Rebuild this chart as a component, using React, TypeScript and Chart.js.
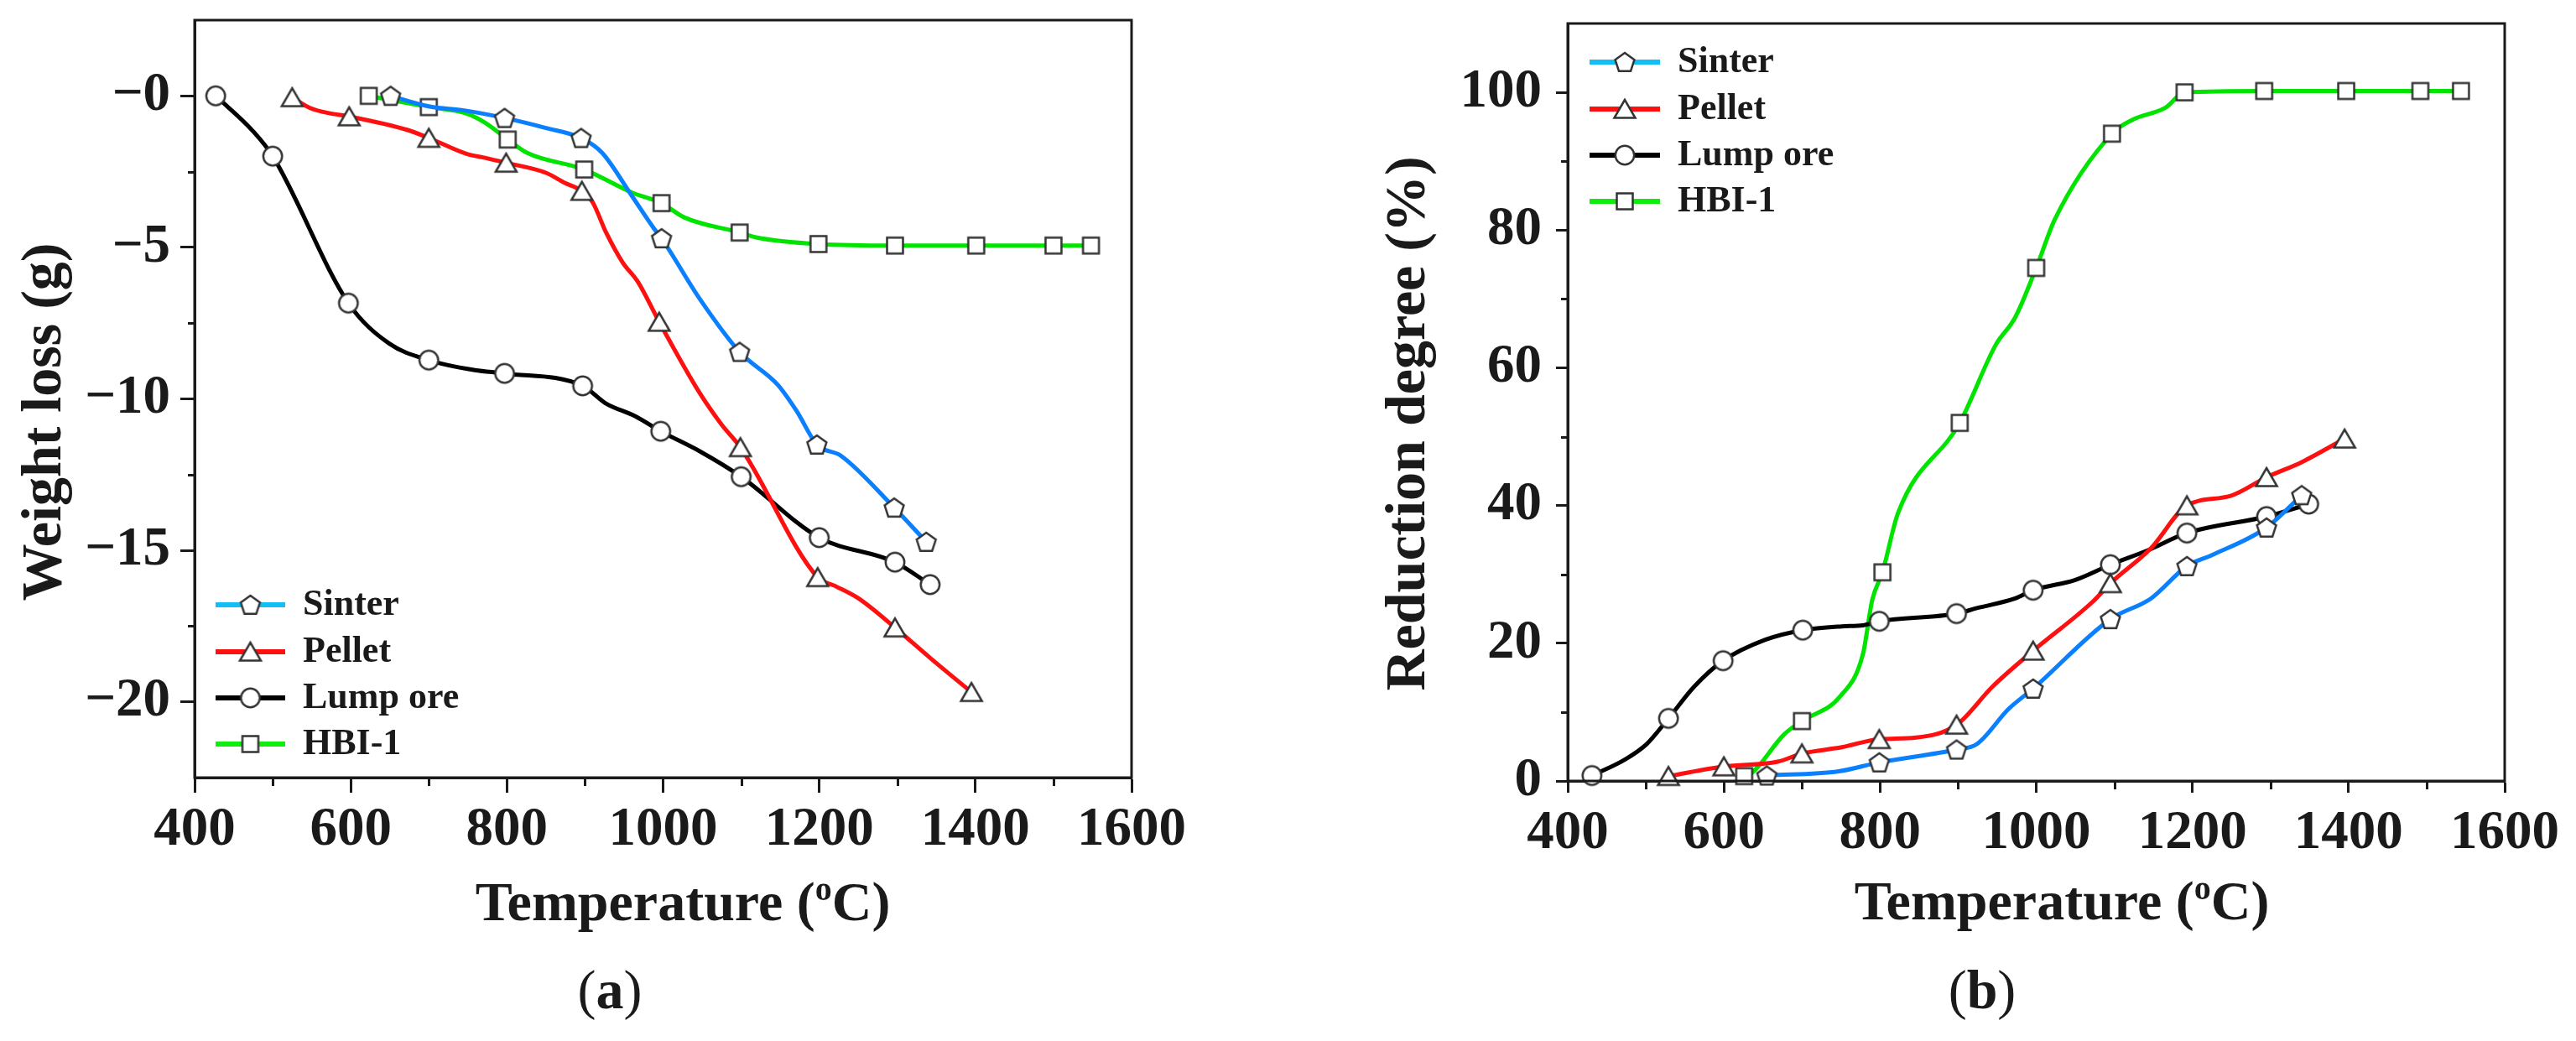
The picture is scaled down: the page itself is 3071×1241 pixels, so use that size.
import { useEffect, useRef } from 'react'
import Chart from 'chart.js/auto'

// ─── Style constants ──────────────────────────────────────────────────────────
const FONT = '"Liberation Serif", "Times New Roman", serif'
const INK = '#1a1a1a'

const SERIES = ['Sinter', 'Pellet', 'Lump ore', 'HBI-1']
const LINE_COLORS = ['#0a80ff', '#ff1010', '#000000', '#00e400']
const LEGEND_COLORS = ['#12bff5', '#ff1010', '#000000', '#10ee10']
const SHAPES = ['pentagon', 'triangle', 'circle', 'square'] as const

// ─── Axis ticks ───────────────────────────────────────────────────────────────
const X_MAJOR = [400, 600, 800, 1000, 1200, 1400, 1600]
const X_MINOR = [500, 700, 900, 1100, 1300, 1500]
const A_Y_MAJOR = [-20, -15, -10, -5, 0]
const A_Y_MINOR = [-17.5, -12.5, -7.5, -2.5]
const B_Y_MAJOR = [0, 20, 40, 60, 80, 100]
const B_Y_MINOR = [10, 30, 50, 70, 90]

// ─── (a) Weight loss (g) vs temperature ───────────────────────────────────────
const sinterTempA = [651, 701, 745, 797, 850, 895, 922, 960, 989, 998, 1047, 1098, 1147, 1171, 1197, 1228, 1296, 1337]
const sinterLossA = [0, -0.35, -0.48, -0.73, -1.06, -1.39, -1.88, -3.3, -4.4, -4.7, -6.7, -8.45, -9.54, -10.4, -11.51, -11.88, -13.59, -14.72]
const sinterMarkA = [1, 0, 0, 1, 0, 1, 0, 0, 0, 1, 0, 1, 0, 0, 1, 0, 1, 1]

const pelletTempA = [525, 548, 572, 598, 672, 700, 749, 773, 799, 850, 874, 896, 910, 927, 948, 968, 995, 1047, 1075, 1099, 1198, 1220, 1250, 1297, 1343, 1395]
const pelletLossA = [-0.05, -0.4, -0.57, -0.68, -1.12, -1.39, -1.92, -2.05, -2.21, -2.54, -2.87, -3.14, -3.52, -4.51, -5.49, -6.15, -7.46, -9.81, -10.85, -11.6, -15.89, -16.17, -16.58, -17.55, -18.57, -19.68]
const pelletMarkA = [1, 0, 0, 1, 0, 1, 0, 0, 1, 0, 0, 1, 0, 0, 0, 0, 1, 0, 0, 1, 1, 0, 0, 1, 0, 1]

const lumpTempA = [427, 475, 500, 597, 649, 700, 759, 797, 897, 926, 965, 997, 1047, 1100, 1200, 1297, 1342]
const lumpLossA = [0, -1.17, -1.99, -6.84, -8.17, -8.72, -9.05, -9.16, -9.57, -10.14, -10.58, -11.07, -11.73, -12.57, -14.58, -15.39, -16.13]
const lumpMarkA = [1, 0, 1, 1, 0, 1, 0, 1, 1, 0, 0, 1, 0, 1, 1, 1, 1]

const hbiTempA = [623, 700, 749, 773, 801, 826, 899, 960, 998, 1027, 1098, 1119, 1199, 1297, 1401, 1500, 1548]
const hbiLossA = [0, -0.37, -0.59, -0.9, -1.44, -1.88, -2.43, -3.19, -3.54, -4.01, -4.51, -4.67, -4.89, -4.94, -4.94, -4.94, -4.94]
const hbiMarkA = [1, 1, 0, 0, 1, 0, 1, 0, 1, 0, 1, 0, 1, 1, 1, 1, 1]

// ─── (b) Reduction degree (%) vs temperature ──────────────────────────────────
const sinterTempB = [655, 747, 799, 898, 924, 965, 996, 1095, 1147, 1193, 1225, 1295, 1340]
const sinterRedB = [0.79, 1.4, 2.7, 4.56, 5.36, 10.5, 13.4, 23.5, 26.5, 31.2, 32.8, 36.8, 41.5]
const sinterMarkB = [1, 0, 1, 1, 0, 0, 1, 1, 0, 1, 0, 1, 1]

const pelletTempB = [529, 600, 669, 700, 751, 799, 846, 898, 944, 996, 1073, 1095, 1147, 1193, 1249, 1295, 1340, 1395]
const pelletRedB = [0.7, 2.1, 2.8, 3.97, 4.9, 6.06, 6.3, 8.15, 13.7, 18.9, 26.1, 28.7, 33.8, 40.0, 41.4, 44.1, 46.3, 49.7]
const pelletMarkB = [1, 1, 0, 1, 0, 1, 0, 1, 0, 1, 0, 1, 0, 1, 0, 1, 0, 1]

const lumpTempB = [431, 472, 501, 529, 562, 599, 653, 701, 751, 778, 799, 898, 924, 973, 996, 1050, 1095, 1143, 1193, 1295, 1349]
const lumpRedB = [0.79, 3.03, 5.35, 9.09, 13.7, 17.46, 20.5, 21.9, 22.45, 22.6, 23.19, 24.3, 25.1, 26.5, 27.7, 29.2, 31.4, 33.5, 36.0, 38.4, 40.2]
const lumpMarkB = [1, 0, 0, 1, 0, 1, 0, 1, 0, 0, 1, 1, 0, 0, 1, 0, 1, 0, 1, 1, 1]

const hbiTempB = [626, 636, 677, 700, 749, 778, 790, 803, 823, 902, 948, 973, 1000, 1024, 1097, 1123, 1166, 1190, 1292, 1397, 1492, 1544]
const hbiRedB = [0.7, 1.2, 6.75, 8.7, 12.3, 18.4, 26.3, 30.3, 38.9, 52.0, 63.3, 67.3, 74.5, 81.6, 94.0, 96.0, 97.8, 100.0, 100.2, 100.2, 100.2, 100.2]
const hbiMarkB = [1, 0, 0, 1, 0, 0, 0, 1, 0, 1, 0, 0, 1, 0, 1, 0, 0, 1, 1, 1, 1, 1]

type Series = { t: number[]; v: number[]; m: number[] }

const SERIES_A: Series[] = [
  { t: sinterTempA, v: sinterLossA, m: sinterMarkA },
  { t: pelletTempA, v: pelletLossA, m: pelletMarkA },
  { t: lumpTempA, v: lumpLossA, m: lumpMarkA },
  { t: hbiTempA, v: hbiLossA, m: hbiMarkA },
]
const SERIES_B: Series[] = [
  { t: sinterTempB, v: sinterRedB, m: sinterMarkB },
  { t: pelletTempB, v: pelletRedB, m: pelletMarkB },
  { t: lumpTempB, v: lumpRedB, m: lumpMarkB },
  { t: hbiTempB, v: hbiRedB, m: hbiMarkB },
]

// ─── Open markers as small canvases (Chart.js has no pentagon) ────────────────
const markerCache: Record<string, HTMLCanvasElement> = {}
function marker(shape: (typeof SHAPES)[number]) {
  if (markerCache[shape]) return markerCache[shape]
  const c = document.createElement('canvas')
  c.width = 32
  c.height = 32
  const g = c.getContext('2d')!
  g.fillStyle = '#ffffff'
  g.strokeStyle = '#333333'
  g.lineWidth = 2.5
  g.lineJoin = 'miter'
  g.beginPath()
  if (shape === 'circle') {
    g.arc(16, 16, 11.2, 0, Math.PI * 2)
  } else if (shape === 'square') {
    g.rect(6.5, 6.5, 19, 19)
  } else if (shape === 'triangle') {
    g.moveTo(16, 5)
    g.lineTo(3.5, 26.5)
    g.lineTo(28.5, 26.5)
    g.closePath()
  } else {
    for (let k = 0; k < 5; k++) {
      const a = -Math.PI / 2 + (k * 2 * Math.PI) / 5
      const px = 16 + 12 * Math.cos(a)
      const py = 17 + 12 * Math.sin(a)
      if (k === 0) g.moveTo(px, py)
      else g.lineTo(px, py)
    }
    g.closePath()
  }
  g.fill()
  g.stroke()
  markerCache[shape] = c
  return c
}

// ─── Panel config ─────────────────────────────────────────────────────────────
type PanelCfg = {
  left: number
  width: number
  height: number
  plot: { left: number; right: number; top: number; bottom: number }
  yMin: number
  yMax: number
  yMajor: number[]
  yMinor: number[]
  yFmt: (v: number) => string
  yTitle: string
  yTitleX: number
  yTitleY: number
  xTitleX: number
  xTitleY: number
  legend: { x0: number; x1: number; tx: number; ys: number[] }
  tick: { xMajor: number; xMinor: number; yMajor: number; yMinor: number; xPad: number; yPad: number }
  series: Series[]
}

const PANEL_A: PanelCfg = {
  left: 0,
  width: 1480,
  height: 1130,
  plot: { left: 232, right: 1349, top: 24, bottom: 927 },
  yMin: -22.5,
  yMax: 2.5,
  yMajor: A_Y_MAJOR,
  yMinor: A_Y_MINOR,
  yFmt: (v) => '\u2212' + Math.abs(v),
  yTitle: 'Weight loss (g)',
  yTitleX: 72,
  yTitleY: 503,
  xTitleX: 814,
  xTitleY: 1097,
  legend: { x0: 257, x1: 340, tx: 361, ys: [721, 777, 832, 887] },
  tick: { xMajor: 18, xMinor: 10, yMajor: 17, yMinor: 8, xPad: 6, yPad: 12 },
  series: SERIES_A,
}

const PANEL_B: PanelCfg = {
  left: 1500,
  width: 1571,
  height: 1130,
  plot: { left: 369, right: 1486, top: 28, bottom: 931 },
  yMin: 0,
  yMax: 110,
  yMajor: B_Y_MAJOR,
  yMinor: B_Y_MINOR,
  yFmt: (v) => String(v),
  yTitle: 'Reduction degree (%)',
  yTitleX: 198,
  yTitleY: 505,
  xTitleX: 958,
  xTitleY: 1096,
  legend: { x0: 395, x1: 479, tx: 500, ys: [74, 130, 185, 240] },
  tick: { xMajor: 14, xMinor: 10, yMajor: 14, yMinor: 8, xPad: 10, yPad: 17 },
  series: SERIES_B,
}

// ─── Decorations: frame, minor ticks, axis titles, legend ─────────────────────
function decoPlugin(cfg: PanelCfg) {
  return {
    id: 'deco',
    afterDraw(chart: Chart) {
      const { ctx, chartArea: a, scales } = chart
      const xs = scales.x
      const ys = scales.y
      ctx.save()
      // frame
      ctx.strokeStyle = INK
      ctx.lineWidth = 3
      ctx.strokeRect(a.left, a.top, a.right - a.left, a.bottom - a.top)
      // minor ticks
      ctx.beginPath()
      X_MINOR.forEach((v) => {
        const px = Math.round(xs.getPixelForValue(v)) + 0.5
        ctx.moveTo(px, a.bottom)
        ctx.lineTo(px, a.bottom + cfg.tick.xMinor)
      })
      cfg.yMinor.forEach((v) => {
        const py = Math.round(ys.getPixelForValue(v)) + 0.5
        ctx.moveTo(a.left, py)
        ctx.lineTo(a.left - cfg.tick.yMinor, py)
      })
      ctx.stroke()

      // x title with superscript o
      ctx.fillStyle = INK
      ctx.textBaseline = 'alphabetic'
      const big = `bold 66px ${FONT}`
      const sup = `bold 40px ${FONT}`
      const p1 = 'Temperature ('
      const p2 = 'o'
      const p3 = 'C)'
      ctx.font = big
      const w1 = ctx.measureText(p1).width
      const w3 = ctx.measureText(p3).width
      ctx.font = sup
      const w2 = ctx.measureText(p2).width
      let x = cfg.xTitleX - (w1 + w2 + w3) / 2
      ctx.font = big
      ctx.textAlign = 'left'
      ctx.fillText(p1, x, cfg.xTitleY)
      x += w1
      ctx.font = sup
      ctx.fillText(p2, x, cfg.xTitleY - 24)
      x += w2
      ctx.font = big
      ctx.fillText(p3, x, cfg.xTitleY)

      // y title rotated
      ctx.save()
      ctx.translate(cfg.yTitleX, cfg.yTitleY)
      ctx.rotate(-Math.PI / 2)
      ctx.textAlign = 'center'
      ctx.font = `bold 68px ${FONT}`
      ctx.fillText(cfg.yTitle, 0, 0)
      ctx.restore()

      // legend: coloured line + open marker + label
      const lg = cfg.legend
      SERIES.forEach((name, i) => {
        const y = lg.ys[i]
        ctx.strokeStyle = LEGEND_COLORS[i]
        ctx.lineWidth = 6
        ctx.beginPath()
        ctx.moveTo(lg.x0, y)
        ctx.lineTo(lg.x1, y)
        ctx.stroke()
        const img = marker(SHAPES[i])
        ctx.drawImage(img, (lg.x0 + lg.x1) / 2 - 16, y - 16)
        ctx.fillStyle = INK
        ctx.font = `bold 44px ${FONT}`
        ctx.textAlign = 'left'
        ctx.textBaseline = 'middle'
        ctx.fillText(name, lg.tx, y + 1)
      })
      ctx.restore()
    },
  }
}

function Panel({ cfg }: { cfg: PanelCfg }) {
  const canvasRef = useRef<HTMLCanvasElement>(null)

  useEffect(() => {
    const canvas = canvasRef.current
    if (!canvas) return
    const tickFont = { family: FONT, weight: 'bold' as const, size: 65 }
    const chart = new Chart(canvas, {
      type: 'line',
      data: {
        datasets: cfg.series.map((s, i) => ({
          label: SERIES[i],
          data: s.t.map((t, k) => ({ x: t, y: s.v[k] })),
          borderColor: LINE_COLORS[i],
          backgroundColor: LINE_COLORS[i],
          borderWidth: 5,
          cubicInterpolationMode: 'monotone' as const,
          pointStyle: marker(SHAPES[i]),
          pointRadius: (c: any) => (s.m[c.dataIndex] ? 11 : 0),
          clip: false as const,
        })),
      },
      options: {
        animation: false,
        responsive: false,
        devicePixelRatio: 1,
        events: [],
        layout: {
          padding: { left: 0, top: cfg.plot.top, right: cfg.width - cfg.plot.right, bottom: 0 },
        },
        plugins: { legend: { display: false }, tooltip: { enabled: false } },
        scales: {
          x: {
            type: 'linear',
            min: 400,
            max: 1600,
            afterFit: (s: any) => {
              s.height = cfg.height - cfg.plot.bottom
              s.paddingLeft = 0
              s.paddingRight = 0
            },
            afterBuildTicks: (s: any) => {
              s.ticks = X_MAJOR.map((value) => ({ value }))
            },
            grid: {
              drawOnChartArea: false,
              drawTicks: true,
              tickLength: cfg.tick.xMajor,
              tickWidth: 3,
              tickColor: INK,
            },
            border: { display: true, color: INK, width: 3 },
            ticks: {
              font: tickFont,
              color: INK,
              padding: cfg.tick.xPad,
              maxRotation: 0,
              autoSkip: false,
              callback: (v: any) => String(v),
            },
          },
          y: {
            type: 'linear',
            min: cfg.yMin,
            max: cfg.yMax,
            afterFit: (s: any) => {
              s.width = cfg.plot.left
              s.paddingTop = 0
              s.paddingBottom = 0
            },
            afterBuildTicks: (s: any) => {
              s.ticks = cfg.yMajor.map((value) => ({ value }))
            },
            grid: {
              drawOnChartArea: false,
              drawTicks: true,
              tickLength: cfg.tick.yMajor,
              tickWidth: 3,
              tickColor: INK,
            },
            border: { display: true, color: INK, width: 3 },
            ticks: {
              font: tickFont,
              color: INK,
              padding: cfg.tick.yPad,
              autoSkip: false,
              callback: (v: any) => cfg.yFmt(Number(v)),
            },
          },
        },
      },
      plugins: [decoPlugin(cfg)],
    })
    return () => chart.destroy()
  }, [cfg])

  return (
    <canvas
      ref={canvasRef}
      width={cfg.width}
      height={cfg.height}
      style={{ position: 'absolute', left: cfg.left, top: 0, width: cfg.width, height: cfg.height }}
    />
  )
}

function PanelLabel({ cx, letter }: { cx: number; letter: string }) {
  return (
    <div
      style={{
        position: 'absolute',
        left: cx - 100,
        top: 1140,
        width: 200,
        textAlign: 'center',
        fontFamily: FONT,
        fontSize: 66,
        lineHeight: '80px',
        color: INK,
      }}
    >
      (<b>{letter}</b>)
    </div>
  )
}

export default function App() {
  return (
    <div
      style={{
        position: 'absolute',
        left: 0,
        top: 0,
        width: 3071,
        height: 1241,
        background: '#ffffff',
        overflow: 'hidden',
      }}
    >
      <Panel cfg={PANEL_A} />
      <Panel cfg={PANEL_B} />
      <PanelLabel cx={727} letter="a" />
      <PanelLabel cx={2363} letter="b" />
    </div>
  )
}
